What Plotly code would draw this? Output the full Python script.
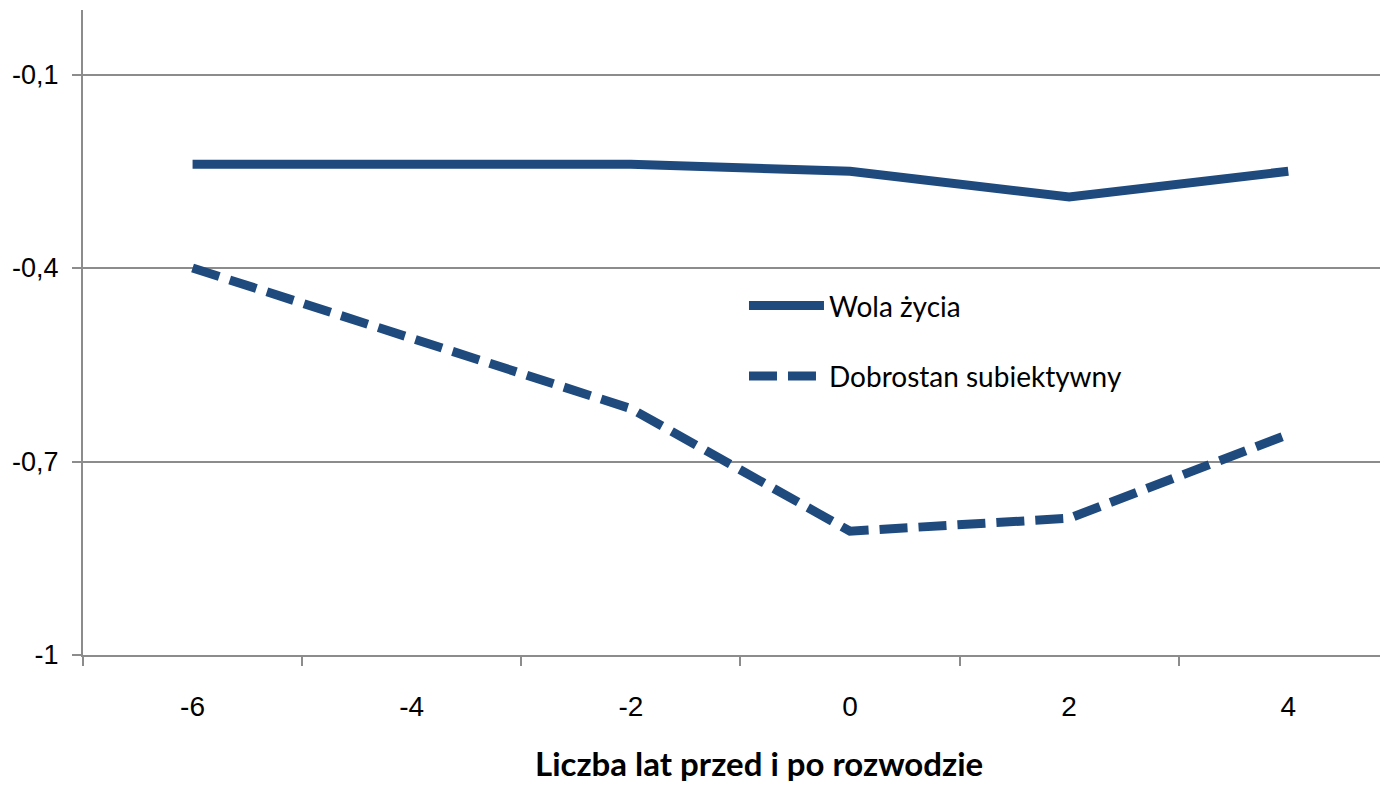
import plotly.graph_objects as go

years = [-6, -2, 0, 2, 4]
wola_zycia = [-0.239, -0.239, -0.250, -0.290, -0.250]
dobrostan = [-0.400, -0.618, -0.808, -0.788, -0.658]
x_ticks = [-6, -4, -2, 0, 2, 4]
y_ticks = [-1.0, -0.7, -0.4, -0.1]
y_tick_labels = ["-1", "-0,7", "-0,4", "-0,1"]
x_title = "Liczba lat przed i po rozwodzie"

color = "#1F4A7E"
grid = "#8C8C8C"

fig = go.Figure()
fig.add_trace(go.Scatter(x=years, y=wola_zycia, mode="lines", name="Wola życia",
                         legendgroup="a",
                         line=dict(color=color, width=9)))
fig.add_trace(go.Scatter(x=years, y=dobrostan, mode="lines", name="Dobrostan subiektywny",
                         legendgroup="b",
                         line=dict(color=color, width=9, dash="28px,11px")))

fig.add_annotation(text="<b>" + x_title + "</b>", xref="paper", yref="paper",
                   x=0.518, y=-0.168, xanchor="center", yanchor="middle",
                   showarrow=False,
                   font=dict(family="Lato, Open Sans, sans-serif", size=33, color="#000"))

fig.update_layout(
    width=1380, height=778,
    margin=dict(l=75, r=0, t=2, b=131),
    plot_bgcolor="white", paper_bgcolor="white",
    showlegend=True,
    legend=dict(x=0.5065, y=0.58, xanchor="left", yanchor="top",
                font=dict(family="Lato, Open Sans, sans-serif", size=28, color="#000"),
                itemwidth=75, tracegroupgap=31, traceorder="grouped",
                bgcolor="rgba(0,0,0,0)"),
    xaxis=dict(range=[-7, 4.91], tickmode="array", tickvals=x_ticks,
               ticktext=[str(v) for v in x_ticks],
               ticks="", showgrid=False, zeroline=False,
               showline=True, linecolor=grid, linewidth=2,
               ticklabelstandoff=25,
               tickfont=dict(family="Liberation Sans, Arial", size=28, color="#000"),
               minor=dict(tick0=-7, dtick=2, ticks="outside", ticklen=9,
                          tickwidth=2, tickcolor=grid, showgrid=False)),
    yaxis=dict(range=[-1.0, 0.0], tickmode="array", tickvals=y_ticks,
               ticktext=y_tick_labels, ticks="outside", ticklen=9, tickwidth=2,
               tickcolor=grid, showgrid=True, gridcolor=grid, gridwidth=2,
               zeroline=False, showline=True, linecolor=grid, linewidth=2,
               ticklabelstandoff=8,
               tickfont=dict(family="Liberation Sans, Arial", size=27, color="#000")),
)

fig.write_html("out.html")
